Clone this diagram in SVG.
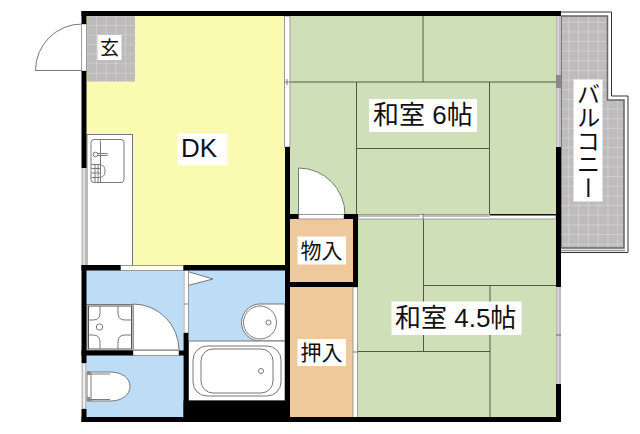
<svg xmlns="http://www.w3.org/2000/svg" width="640" height="434" viewBox="0 0 640 434">
<style>
.w{fill:#000}
.t{fill:none;stroke:#4f5a48;stroke-width:1}
.l{fill:#fff}
.g{fill:none;stroke:#7a7a7a;stroke-width:1}
.win{fill:#fff;stroke:#9a9a9a;stroke-width:1}
.winb{fill:#bdbdbd}
.f{fill:#fff;stroke:#777;stroke-width:1}
.x{font-family:"Liberation Sans","Noto Sans CJK JP",sans-serif;fill:#111;font-weight:400}
</style>
<defs>
<pattern id="tileA" patternUnits="userSpaceOnUse" x="96" y="25" width="9.7" height="9.55">
<rect width="9.7" height="9.55" fill="#bdbbbb"/>
<path d="M0,0V9.55M0,0H9.7" stroke="#dcdcdc" stroke-width="1" fill="none"/>
</pattern>
<pattern id="tileB" patternUnits="userSpaceOnUse" x="568.3" y="21.7" width="9.8" height="9.65">
<rect width="9.8" height="9.65" fill="#bdbbbb"/>
<path d="M0,0V9.65M0,0H9.8" stroke="#e2e2e2" stroke-width="1" fill="none"/>
</pattern>
</defs>
<rect width="640" height="434" fill="#fff"/>
<g id="floors">
<rect x="86" y="16" width="199" height="250" fill="#fafab0"/>
<rect x="87" y="16" width="48" height="65.5" fill="url(#tileA)"/>
<rect x="290" y="16" width="266" height="199" fill="#cfe0b8"/>
<rect x="357" y="219" width="199" height="198" fill="#cfe0b8"/>
<rect x="86" y="270" width="97" height="81" fill="#bddcf5"/>
<rect x="188" y="270" width="97" height="72" fill="#bddcf5"/>
<rect x="86" y="355" width="97" height="62" fill="#bddcf5"/>
<rect x="290" y="219" width="63" height="63" fill="#efc89c"/>
<rect x="290" y="287" width="63" height="131" fill="#efc89c"/>
<path d="M561,16H607.5V100H624V248H561Z" fill="url(#tileB)" stroke="#666" stroke-width="1.5"/>
<path d="M561,12H611.5V96H628V252.5H561" fill="none" stroke="#333" stroke-width="1"/>
<path d="M561,250.5H625" fill="none" stroke="#999" stroke-width="1.5"/>
</g>
<g id="tatami">
<path class="t" d="M290,82H556M423,16V82M356.5,82V215M489.5,82V215M356.5,148.5H489.5"/>
<path class="t" d="M423.500,215V352M423.500,285.500H556M490,285.500V417M358,351.500H490"/>
</g>
<g id="fixtures">
<path class="f" d="M35.500,70.500A46.500,46.500 0 0 1 82,24V70.500Z"/>
<path class="f" d="M298.500,168A46.500,46.500 0 0 1 345,214.500H298.500Z"/>
<path class="f" d="M133,304A46,46 0 0 1 179,350H133Z"/>
<rect class="f" x="87" y="134.500" width="45.500" height="131"/>
<rect class="g" x="91" y="139.500" width="33" height="43" rx="3"/>
<path class="g" d="M101,139.500C100,140 100.500,141 100.500,143V182.500"/>
<rect class="g" x="95" y="153.500" width="12" height="2"/>
<circle class="f" cx="95.500" cy="154.500" r="2.300"/>
<path class="g" d="M100.500,165C104,165 105,168 105,171S104,177 100.500,177"/>
<path class="g" d="M91.500,164.500H100.500V182M91.500,168.500H100.500M91.500,173H100.500M91.500,177.500H100.500M95,164.500V182M98,164.500V182"/>
<rect class="f" x="87" y="304.500" width="46" height="46"/>
<rect x="88.500" y="306" width="43" height="43" fill="#fff" stroke="#555" stroke-width="1"/>
<path class="g" d="M100,306V313Q100,320 93,320H88.500M118,306V313Q118,320 125,320H131.500M100,349V342Q100,335 93,335H88.500M118,349V342Q118,335 125,335H131.500"/>
<circle class="g" cx="99.500" cy="327" r="3.200"/>
<path d="M285,304H260A18.500,18.500 0 0 0 260,341H285Z" fill="#fff" stroke="#777"/>
<circle class="f" cx="260" cy="322.500" r="16.500"/>
<circle class="f" cx="268.500" cy="322.500" r="2.500"/>
<rect class="f" x="188.500" y="341" width="96.500" height="60"/>
<rect class="f" x="193" y="346" width="88" height="50" rx="14"/>
<rect class="f" x="201" y="349" width="72" height="44" rx="12"/>
<circle class="f" cx="261" cy="371" r="2.500"/>
<path class="f" d="M87,372H110C122,372 130,378 130,386.500C130,395 122,401 110,401H87Z"/>
<path class="g" d="M91,372V401M87,374H110M87,399.500H110"/>
<rect x="87" y="371" width="3" height="4" fill="#888"/><rect x="87" y="397" width="3" height="4" fill="#888"/>
<polygon class="f" points="186,271 213,279 186,286"/>
</g>
<g id="openings">
<rect class="win" x="81.500" y="24" width="5" height="47"/>
<rect class="winb" x="81.500" y="168" width="5" height="97"/><rect x="83" y="168" width="2" height="97" fill="#fff" opacity=".5"/>
<rect class="win" x="284.500" y="16" width="5.500" height="131"/>
<path d="M284,82H290M287,79V85" stroke="#777" fill="none"/>
<rect class="win" x="120.500" y="265.500" width="63" height="5"/>
<rect class="win" x="184" y="270" width="4.500" height="63"/>
<path d="M184,304H188.500" stroke="#888"/>
<rect class="win" x="133" y="350.500" width="46" height="5"/>
<rect class="winb" x="81.500" y="363" width="5" height="46"/><rect x="83" y="364" width="2" height="44" fill="#eee"/>
<rect class="win" x="298.500" y="214.500" width="45.500" height="4.500"/>
<rect class="win" x="353" y="287" width="4.500" height="130.500"/>
<path d="M353,352H358" stroke="#777"/>
<rect class="win" x="358" y="214.500" width="198" height="4.500"/>
<path d="M358,216H420M423,216H490" stroke="#aaa" stroke-width="1.500"/>
<rect x="490" y="214" width="66" height="1.500" fill="#111"/>
<path d="M423,213.500V219" stroke="#777"/>
<rect class="winb" x="556" y="16" width="5" height="131"/>
<rect x="557.500" y="16" width="1.500" height="131" fill="#d8d8d8"/>
<rect x="556" y="75" width="5" height="13" fill="#8a8a8a"/>
<rect class="winb" x="556" y="287" width="5" height="97"/>
<rect x="557.500" y="287" width="1.500" height="97" fill="#d8d8d8"/>
<path d="M556,335H561" stroke="#666"/>
</g>
<g id="walls">
<rect class="w" x="81.500" y="11" width="479.500" height="5"/>
<rect class="w" x="81.500" y="417" width="479.500" height="5"/>
<rect class="w" x="81.500" y="11" width="5" height="13"/>
<rect class="w" x="81.500" y="71" width="5" height="97"/>
<rect class="w" x="81.500" y="265" width="5" height="98"/>
<rect class="w" x="81.500" y="409" width="5" height="13"/>
<rect class="w" x="556" y="147" width="5" height="140"/>
<rect class="w" x="556" y="384" width="5" height="38"/>
<rect class="w" x="285" y="147" width="5" height="270"/>
<rect class="w" x="81.500" y="265" width="39" height="5.500"/>
<rect class="w" x="183.500" y="265" width="102" height="5.500"/>
<rect class="w" x="183.500" y="333" width="5" height="89"/>
<rect class="w" x="81.500" y="350.500" width="51.500" height="5"/>
<rect class="w" x="179" y="350.500" width="9" height="5"/>
<rect class="w" x="183.500" y="400.500" width="102" height="17"/>
<rect class="w" x="290" y="214" width="8.500" height="5"/>
<rect class="w" x="344" y="214" width="14" height="5"/>
<rect class="w" x="353" y="214" width="5" height="73"/>
<rect class="w" x="285" y="282" width="73" height="5"/>
</g>
<g id="labels">
<rect class="l" x="97.500" y="35" width="24" height="25"/>
<text class="x" x="109.500" y="54.500" font-size="19" text-anchor="middle">玄</text>
<rect class="l" x="177.500" y="133.500" width="50" height="32"/>
<text x="181" y="157" font-size="26" font-family="Liberation Sans,sans-serif" fill="#111">DK</text>
<rect class="l" x="369" y="99" width="108" height="33"/>
<text class="x" x="373" y="124" font-size="26">和室 6帖</text>
<rect class="l" x="391.500" y="301.500" width="130" height="33.500"/>
<text class="x" x="395" y="327" font-size="26">和室 4.5帖</text>
<rect class="l" x="297.500" y="236.500" width="48.500" height="28"/>
<text class="x" x="321.500" y="258" font-size="21" text-anchor="middle">物入</text>
<rect class="l" x="297.500" y="339" width="48.500" height="27"/>
<text class="x" x="321.500" y="360" font-size="21" text-anchor="middle">押入</text>
<rect class="l" x="573.500" y="79.500" width="29" height="122"/>
<text x="588.500" y="82" font-size="23.500" writing-mode="vertical-rl" font-family="Noto Sans CJK JP,sans-serif" fill="#111">バルコニー</text>
</g>
</svg>
